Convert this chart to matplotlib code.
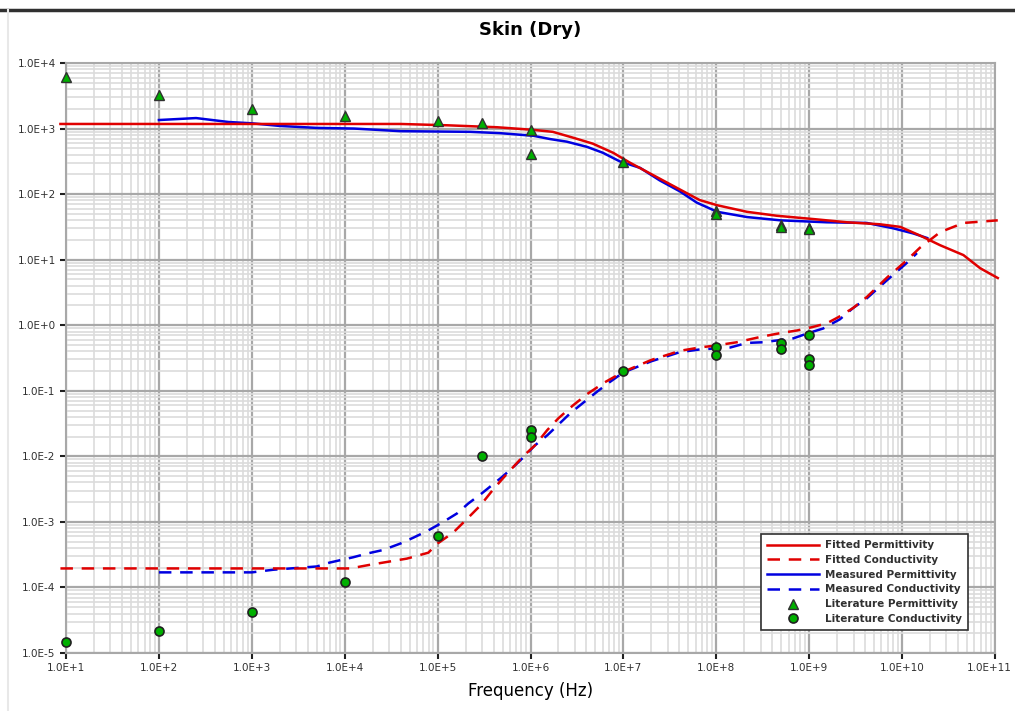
import matplotlib
matplotlib.use("Agg")
import matplotlib.pyplot as plt
import numpy as np
from matplotlib.lines import Line2D
from matplotlib.ticker import LogLocator, FuncFormatter, NullFormatter

# log10(frequency), log10(value)
fit_perm_lf = [0.94, 2.0, 3.0, 4.0, 4.6, 5.1, 5.64, 6.03, 6.24, 6.46, 6.67, 6.89, 7.07, 7.32,
               7.53, 7.82, 8.01, 8.33, 8.65, 9.04, 9.41, 9.76, 9.98, 10.19, 10.41, 10.66, 10.84, 11.03]
fit_perm_lv = [3.07, 3.07, 3.07, 3.07, 3.07, 3.05, 3.02, 2.98, 2.95, 2.86, 2.77, 2.63, 2.48, 2.29,
               2.13, 1.91, 1.83, 1.73, 1.67, 1.62, 1.57, 1.54, 1.50, 1.37, 1.22, 1.07, 0.87, 0.72]

fit_cond_lf = [0.94, 2.0, 3.0, 4.06, 4.25, 4.67, 4.9, 5.0, 5.17, 5.32, 5.46, 5.59, 5.7, 5.81, 5.92,
               6.05, 6.18, 6.3, 6.46, 6.62, 6.8, 7.0, 7.3, 7.61, 7.82, 7.99, 8.22, 8.47, 8.69, 8.87,
               9.03, 9.19, 9.31, 9.47, 9.62, 9.84, 10.05, 10.19, 10.41, 10.66, 11.03]
fit_cond_lv = [-3.71, -3.71, -3.71, -3.71, -3.66, -3.56, -3.47, -3.33, -3.16, -2.95, -2.75, -2.52,
               -2.34, -2.17, -2.0, -1.83, -1.6, -1.42, -1.22, -1.04, -0.87, -0.71, -0.53, -0.39,
               -0.34, -0.31, -0.26, -0.18, -0.12, -0.08, -0.03, 0.03, 0.12, 0.26, 0.43, 0.73, 0.99,
               1.18, 1.42, 1.56, 1.60]

meas_perm_lf = [2.0, 2.4, 2.75, 3.0, 3.3, 3.7, 4.1, 4.6, 5.35, 5.67, 6.03, 6.21, 6.39, 6.61, 6.78,
                6.96, 7.18, 7.39, 7.61, 7.79, 8.01, 8.33, 8.69, 9.19, 9.62, 9.9, 10.12, 10.27]
meas_perm_lv = [3.13, 3.16, 3.10, 3.08, 3.04, 3.01, 3.0, 2.96, 2.95, 2.93, 2.89, 2.84, 2.80, 2.72,
                2.63, 2.50, 2.40, 2.21, 2.04, 1.87, 1.73, 1.65, 1.60, 1.57, 1.56, 1.48, 1.40, 1.33]

meas_cond_lf = [2.0, 3.0, 3.23, 3.7, 3.84, 4.09, 4.25, 4.41, 4.6, 4.74, 4.9, 5.05, 5.21, 5.33, 5.48,
                5.69, 5.81, 5.92, 6.05, 6.18, 6.29, 6.43, 6.57, 6.72, 6.85, 7.0, 7.3, 7.61, 7.82,
                8.15, 8.33, 8.5, 8.83, 8.99, 9.15, 9.33, 9.47, 9.62, 9.84, 10.05, 10.16]
meas_cond_lv = [-3.77, -3.77, -3.73, -3.68, -3.62, -3.54, -3.48, -3.43, -3.33, -3.24, -3.13, -3.01,
                -2.87, -2.72, -2.56, -2.32, -2.17, -2.02, -1.83, -1.68, -1.53, -1.34, -1.18, -1.01,
                -0.87, -0.72, -0.55, -0.41, -0.37, -0.34, -0.27, -0.26, -0.20, -0.12, -0.05, 0.09,
                0.26, 0.41, 0.69, 0.95, 1.10]

lit_perm_f = [1e1, 1e2, 1e3, 1e4, 1e5, 3e5, 1e6, 1e6, 1e7, 1e8, 1e8, 5e8, 5e8, 1e9, 1e9]
lit_perm_v = [6100, 3200, 2000, 1550, 1300, 1200, 950, 410, 310, 55, 50, 34, 32, 30, 29]

lit_cond_f = [1e1, 1e2, 1e3, 1e4, 1e5, 3e5, 1e6, 1e6, 1e7, 1e8, 1e8, 5e8, 5e8, 1e9, 1e9, 1e9]
lit_cond_v = [1.45e-5, 2.15e-5, 4.2e-5, 1.2e-4, 6.0e-4, 0.01, 0.025, 0.0195, 0.2,
              0.46, 0.35, 0.53, 0.43, 0.71, 0.3, 0.25]

x_min, x_max = 1e1, 1e11
y_min, y_max = 1e-5, 1e4

fig = plt.figure(figsize=(10.15, 7.11), dpi=100)
ax = fig.add_axes([66 / 1015, 1 - 653 / 711, (995 - 66) / 1015, (653 - 63) / 711])

ax.set_xscale("log")
ax.set_yscale("log")
ax.set_xlim(x_min, x_max)
ax.set_ylim(y_min, y_max)

ax.plot(10 ** np.array(fit_perm_lf), 10 ** np.array(fit_perm_lv), color="#e00000", lw=1.8,
        label="Fitted Permittivity", clip_on=False, zorder=4)
ax.plot(10 ** np.array(fit_cond_lf), 10 ** np.array(fit_cond_lv), color="#e00000", lw=1.8,
        dashes=(5, 3.5), label="Fitted Conductivity", clip_on=False, zorder=4)
ax.plot(10 ** np.array(meas_perm_lf), 10 ** np.array(meas_perm_lv), color="#0000e0", lw=1.8,
        label="Measured Permittivity", zorder=3)
ax.plot(10 ** np.array(meas_cond_lf), 10 ** np.array(meas_cond_lv), color="#0000e0", lw=1.8,
        dashes=(5, 3.5), label="Measured Conductivity", zorder=3)
ax.plot(lit_perm_f, lit_perm_v, ls="none", marker="^", ms=7, mfc="#00b000", mec="#303030",
        mew=1, label="Literature Permittivity", clip_on=False, zorder=5)
ax.plot(lit_cond_f, lit_cond_v, ls="none", marker="o", ms=6.5, mfc="#00b000", mec="#202020",
        mew=1.2, label="Literature Conductivity", clip_on=False, zorder=5)


def sci_label(v, pos):
    e = int(round(np.log10(v)))
    return "1.0E{:+d}".format(e)


def x_label(v, pos):
    # the last label is placed by hand so it stays inside the picture
    if v >= x_max * 0.99:
        return ""
    return sci_label(v, pos)


ax.xaxis.set_major_locator(LogLocator(base=10, numticks=20))
ax.yaxis.set_major_locator(LogLocator(base=10, numticks=20))
ax.xaxis.set_minor_locator(LogLocator(base=10, subs=np.arange(2, 10), numticks=20))
ax.yaxis.set_minor_locator(LogLocator(base=10, subs=np.arange(2, 10), numticks=20))
ax.xaxis.set_major_formatter(FuncFormatter(x_label))
ax.yaxis.set_major_formatter(FuncFormatter(sci_label))
ax.xaxis.set_minor_formatter(NullFormatter())
ax.yaxis.set_minor_formatter(NullFormatter())

ax.annotate(sci_label(x_max, None), xy=(x_max, 0), xycoords=ax.get_xaxis_transform(),
            xytext=(12, -7.2), textcoords="offset points", ha="right", va="top",
            fontsize=7.5, color="#303030", annotation_clip=False)

ax.grid(which="major", color="#a8a8a8", lw=1.6)
ax.grid(which="minor", color="#dcdcdc", lw=1.2)
ax.set_axisbelow(True)
ax.tick_params(which="major", length=4, width=1.5, color="#202020", labelsize=7.5,
               labelcolor="#303030")
ax.tick_params(which="minor", length=0)
for s in ax.spines.values():
    s.set_color("#a8a8a8")
    s.set_linewidth(1.5)

ax.set_title("Skin (Dry)", fontsize=13, fontweight="bold", pad=20)
ax.set_xlabel("Frequency (Hz)", fontsize=12, labelpad=6)

leg = ax.legend(loc="lower right", bbox_to_anchor=(0.977, 0.03), fontsize=7.5,
                fancybox=False, edgecolor="#303030", framealpha=1, borderpad=0.6,
                handlelength=5, labelspacing=0.45, handletextpad=0.6)
leg.get_frame().set_linewidth(1.2)
for t in leg.get_texts():
    t.set_fontweight("bold")
    t.set_color("#303030")

# frame lines around the picture
fig.add_artist(Line2D([0, 1], [1 - 10 / 711, 1 - 10 / 711], color="#303030", lw=2.5))
fig.add_artist(Line2D([8 / 1015, 8 / 1015], [0, 1 - 10 / 711], color="#e8e8e8", lw=1.5))

fig.savefig("out.png", dpi=100)
